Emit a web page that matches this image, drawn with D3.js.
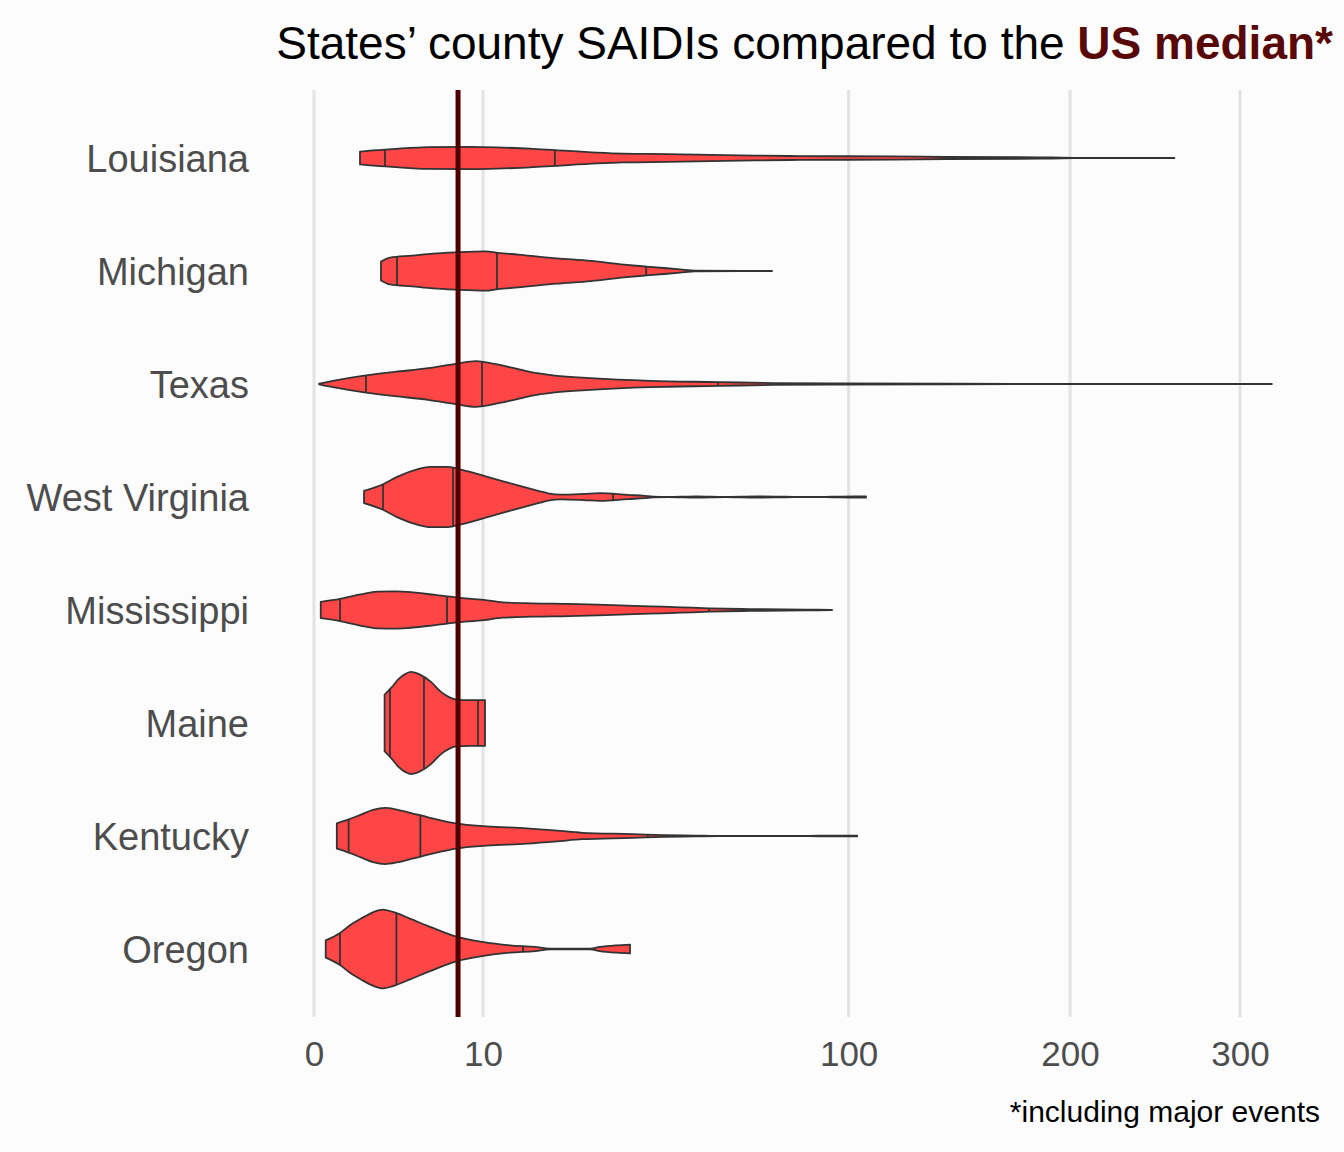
<!DOCTYPE html>
<html>
<head>
<meta charset="utf-8">
<script src="https://cdn.jsdelivr.net/npm/d3@7"></script>
<style>
  body { margin: 0; background: #fcfcfc; }
  svg { display: block; font-family: "Liberation Sans", Arial, sans-serif; }
</style>
</head>
<body>
<div id="chart"></div>
<script>
// states top to bottom
const states = ["Louisiana", "Michigan", "Texas", "West Virginia", "Mississippi", "Maine", "Kentucky", "Oregon"];

const xTicks = [0, 10, 100, 200, 300];
const usMedian = 7.26;

// violin outlines: [SAIDI, relative density]
const louisiana = [[0.74, 0.123], [1.39, 0.152], [2.13, 0.171], [4.55, 0.21], [8.52, 0.215], [12.5, 0.2], [16.3, 0.181], [20.3, 0.152], [28.0, 0.104], [33.4, 0.085], [43.8, 0.075], [68.0, 0.046], [82.6, 0.037], [117, 0.031], [140, 0.019], [184, 0.012], [202, 0.004], [259, 0.001]];
const michigan = [[1.57, 0.181], [2.02, 0.258], [3.36, 0.296], [4.95, 0.335], [7.06, 0.36], [10.23, 0.379], [11.85, 0.348], [14.56, 0.315], [20.66, 0.244], [26.85, 0.194], [33.6, 0.123], [38.6, 0.085], [46.9, 0.033], [50.8, 0.008], [73.4, 0.002]];
const texas = [[0.009, 0.006], [0.126, 0.06], [0.946, 0.165], [2.30, 0.233], [4.55, 0.304], [7.16, 0.392], [9.18, 0.438], [11.2, 0.392], [13.7, 0.315], [16.3, 0.233], [20.3, 0.162], [26.7, 0.112], [39.5, 0.06], [57.1, 0.037], [73.7, 0.017], [95.0, 0.01], [142.4, 0.005], [321, 0.001]];
const westVirginia = [[0.875, 0.117], [1.666, 0.246], [2.41, 0.387], [3.785, 0.535], [4.71, 0.579], [6.28, 0.579], [7.66, 0.521], [10.84, 0.373], [14.42, 0.227], [17.87, 0.11], [19.16, 0.071], [21.35, 0.046], [25.5, 0.06], [28.6, 0.075], [34.5, 0.04], [38.3, 0.021], [40.2, 0.008], [43.8, 0.002], [51.3, 0.012], [59.1, 0.002], [68.4, 0.012], [77.6, 0.006], [86.4, 0.001], [93.9, 0.006], [102.4, 0.013], [106.6, 0.013]];
const mississippi = [[0.016, 0.158], [0.237, 0.213], [0.588, 0.277], [0.946, 0.321], [1.433, 0.354], [2.30, 0.358], [3.03, 0.348], [5.12, 0.29], [6.96, 0.244], [10.11, 0.194], [12.5, 0.148], [16.63, 0.129], [22.75, 0.117], [29.83, 0.098], [39.3, 0.071], [47.1, 0.052], [54.6, 0.033], [66.5, 0.017], [85.0, 0.008], [93.9, 0.001]];
const maine = [[1.744, 0.546], [2.13, 0.694], [2.469, 0.835], [2.962, 0.95], [3.292, 0.983], [3.93, 0.931], [4.79, 0.79], [5.64, 0.598], [6.47, 0.488], [7.06, 0.45], [8.52, 0.44], [10.23, 0.44]];
const kentucky = [[0.182, 0.244], [0.405, 0.315], [0.773, 0.412], [1.218, 0.502], [1.764, 0.54], [2.469, 0.502], [3.36, 0.437], [4.55, 0.36], [7.16, 0.238], [10.35, 0.187], [15.87, 0.148], [20.66, 0.104], [25.13, 0.062], [35.38, 0.037], [42.86, 0.017], [50.8, 0.008], [56.8, 0.002], [70, 0.001], [85.7, 0.002], [93.2, 0.007], [103.2, 0.006]];
const oregon = [[0.048, 0.167], [0.237, 0.31], [0.454, 0.456], [0.773, 0.585], [1.218, 0.706], [1.666, 0.758], [2.184, 0.713], [3.225, 0.585], [4.71, 0.425], [7.16, 0.233], [9.88, 0.137], [13.44, 0.071], [17.09, 0.04], [19.49, 0.008], [26.7, 0.008], [28.6, 0.04], [32.1, 0.071], [34.94, 0.085]];

// quantile lines drawn inside each violin
const louisianaQ = [1.764, 20.3, 169.5];
const michiganQ = [2.41, 11.72, 38.6];
const texasQ = [0.946, 9.88, 57.1];
const westVirginiaQ = [1.666, 6.76, 31.3];
const mississippiQ = [0.237, 6.19, 54.6];
const maineQ = [2.02, 4.23, 9.41];
const kentuckyQ = [0.419, 3.96, 39.0];
const oregonQ = [0.237, 2.376, 15.28];

const profiles = [louisiana, michigan, texas, westVirginia, mississippi, maine, kentucky, oregon];
const quantiles = [louisianaQ, michiganQ, texasQ, westVirginiaQ, mississippiQ, maineQ, kentuckyQ, oregonQ];

const margin = {top: 90, left: 314},
      width = 926,
      height = 927;

const svg = d3.select("#chart").append("svg")
  .attr("width", 1344)
  .attr("height", 1152);

svg.append("rect")
  .attr("width", 1344).attr("height", 1152)
  .attr("fill", "#fcfcfc");

const chart = svg.append("g")
  .attr("transform", `translate(${margin.left},${margin.top})`);

const x = d3.scaleSqrt()
  .domain([0, 300])
  .range([0, width]);

const y = d3.scalePoint()
  .domain(states)
  .range([68, 859]);

const w = d3.scaleLinear()
  .domain([0, 1])
  .range([0, 52]);

// grid
chart.append("g")
  .selectAll("line")
  .data(xTicks)
  .join("line")
    .attr("x1", d => x(d)).attr("x2", d => x(d))
    .attr("y1", 0).attr("y2", height)
    .attr("stroke", "#e3e3e3")
    .attr("stroke-width", 3);

// x axis labels
const xAxis = chart.append("g")
  .attr("transform", `translate(0,${height})`)
  .call(d3.axisBottom(x).tickValues(xTicks).tickSize(0).tickPadding(24).tickFormat(d3.format("d")));
xAxis.select(".domain").remove();
xAxis.selectAll("text")
  .attr("font-size", 35)
  .attr("fill", "#4d4d4d")
  .style("font-family", "Liberation Sans, Arial, sans-serif");

// y axis labels
const yAxis = chart.append("g")
  .call(d3.axisLeft(y).tickSize(0).tickPadding(65));
yAxis.select(".domain").remove();
yAxis.selectAll("text")
  .attr("font-size", 38)
  .attr("dy", "0.36em")
  .attr("fill", "#4d4d4d")
  .style("font-family", "Liberation Sans, Arial, sans-serif");

// violins
const area = d3.area()
  .x(d => x(d[0]))
  .y0(d => -w(d[1]))
  .y1(d => w(d[1]))
  .curve(d3.curveMonotoneX);

function halfWidthAt(profile, v) {
  const px = x(v);
  for (let i = 1; i < profile.length; i++) {
    const a = profile[i - 1], b = profile[i];
    if (px <= x(b[0])) {
      const t = (px - x(a[0])) / (x(b[0]) - x(a[0]));
      return w(a[1] + t * (b[1] - a[1]));
    }
  }
  return w(profile[profile.length - 1][1]);
}

const violins = chart.append("g")
  .selectAll("g")
  .data(states)
  .join("g")
    .attr("transform", d => `translate(0,${y(d)})`);

violins.append("path")
  .attr("d", (d, i) => area(profiles[i]))
  .attr("fill", "#ff4646")
  .attr("stroke", "#333333")
  .attr("stroke-width", 1.8)
  .attr("stroke-linejoin", "round");

violins.each(function(d, i) {
  d3.select(this).selectAll("line.q")
    .data(quantiles[i])
    .join("line")
      .attr("class", "q")
      .attr("x1", q => x(q)).attr("x2", q => x(q))
      .attr("y1", q => -halfWidthAt(profiles[i], q))
      .attr("y2", q => halfWidthAt(profiles[i], q))
      .attr("stroke", "#333333")
      .attr("stroke-width", 1.8);
});

// US median
chart.append("line")
  .attr("x1", x(usMedian)).attr("x2", x(usMedian))
  .attr("y1", 0).attr("y2", height)
  .attr("stroke", "#4d0000")
  .attr("stroke-width", 5);

// title
const title = svg.append("text")
  .attr("x", 1333)
  .attr("y", 59)
  .attr("text-anchor", "end")
  .attr("font-size", 46)
  .attr("fill", "#000");
title.append("tspan").text("States’ county SAIDIs compared to the ");
title.append("tspan").text("US median*")
  .attr("font-weight", "bold")
  .attr("fill", "#590808");

svg.append("text")
  .attr("x", 1320)
  .attr("y", 1122)
  .attr("text-anchor", "end")
  .attr("font-size", 30)
  .attr("fill", "#000")
  .text("*including major events");
</script>
</body>
</html>
